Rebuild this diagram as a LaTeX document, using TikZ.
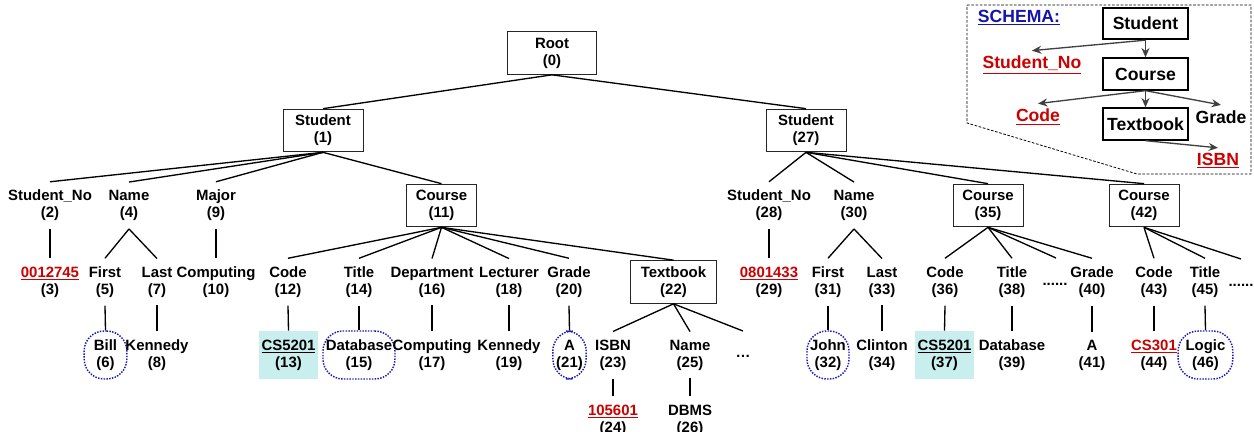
\documentclass[tikz,border=0pt]{standalone}
\usepackage{fontspec}
\setmainfont{Liberation Sans}
\usepackage{tikz}
\usetikzlibrary{arrows.meta}
\definecolor{xmlred}{RGB}{204,0,0}
\definecolor{xmlblue}{RGB}{20,20,170}
\definecolor{ringblue}{RGB}{25,25,185}
\definecolor{keycyan}{RGB}{200,238,238}
\definecolor{arrgray}{RGB}{64,64,64}
\newcommand{\treefont}{\fontsize{11.2}{12.75}\selectfont\bfseries}
\newcommand{\schemafont}{\fontsize{13.2}{15}\selectfont\bfseries}
\newcommand{\keyval}[1]{\textcolor{xmlred}{\underline{#1}}}
\tikzset{
  %% ---- tree ----
  elem/.style    = {rectangle, draw=black!85, line width=0.75pt,
                    minimum width=#1, minimum height=32pt, inner sep=1pt,
                    align=center, font=\treefont},
  elem/.default  = 53pt,
  lbl/.style     = {align=center, inner sep=6pt, font=\treefont},
  ring/.style    = {draw=ringblue, densely dotted, line width=1.1pt,
                    rounded corners=15pt, minimum width=#1,
                    minimum height=36pt, inner sep=0pt,
                    align=center, font=\treefont},
  keybox/.style  = {fill=keycyan, minimum width=44pt, minimum height=36pt,
                    inner sep=0pt, align=center, font=\treefont},
  ellip/.style   = {inner sep=1pt, font=\treefont},
  edge/.style    = {line width=1pt, color=black},
  %% ---- schema ----
  sbox/.style    = {rectangle, draw=black, line width=1.5pt,
                    minimum width=63.75pt, minimum height=23.5pt,
                    inner sep=1pt, font=\schemafont},
  stext/.style   = {inner sep=4pt, font=\schemafont},
  sarrow/.style  = {-{Stealth[length=7pt, width=6pt]}, line width=1pt,
                    color=arrgray},
}

\begin{document}
\begin{tikzpicture}[x=0.75pt, y=-0.75pt]
\useasboundingbox (0,0) rectangle (1254,432);

% Root and the two students
\node[elem=66.75pt] (root) at (552,53)    {Root\\(0)};
\node[elem=60pt]    (s1)   at (323,130.5) {Student\\(1)};
\node[elem=60pt]    (s27)  at (806,130.5) {Student\\(27)};

% first student
\node[lbl]       (n2)  at (50,205.5)    {Student\_No\\(2)};
\node[lbl]       (n4)  at (129,205.5)   {Name\\(4)};
\node[lbl]       (n9)  at (216,205.5)   {Major\\(9)};
\node[elem=53pt] (n11) at (441.5,205.5) {Course\\(11)};

\node[lbl]       (n3)  at (50,282)    {\keyval{0012745}\\(3)};
\node[lbl]       (n5)  at (105,282)   {First\\(5)};
\node[lbl]       (n7)  at (157,282)   {Last\\(7)};
\node[lbl]       (n10) at (216,282)   {Computing\\(10)};
\node[lbl]       (n12) at (288,282)   {Code\\(12)};
\node[lbl]       (n14) at (359,282)   {Title\\(14)};
\node[lbl]       (n16) at (432,282)   {Department\\(16)};
\node[lbl]       (n18) at (509,282)   {Lecturer\\(18)};
\node[lbl]       (n20) at (569,282)   {Grade\\(20)};
\node[elem=65pt] (n22) at (673.5,282) {Textbook\\(22)};

\node[ring=32pt] (n6)  at (105.5,355) {Bill\\(6)};
\node[lbl]       (n8)  at (157,355)   {Kennedy\\(8)};
\node[keybox]    (n13) at (288.5,355) {\underline{CS5201}\\(13)};
\node[ring=54pt] (n15) at (359,355)   {Database\\(15)};
\node[lbl]       (n17) at (432,355)   {Computing\\(17)};
\node[lbl]       (n19) at (509,355)   {Kennedy\\(19)};
\node[ring=25pt] (n21) at (569.5,355) {A\\(21)};
\node[lbl]       (n23) at (613,355)   {ISBN\\(23)};
\node[lbl]       (n25) at (690,355)   {Name\\(25)};
\node[ellip]     (tbdots) at (743,356) {\ldots};
\coordinate      (tbmore) at (743,331);

\node[lbl]       (n24) at (613,420)   {\keyval{105601}\\(24)};
\node[lbl]       (n26) at (690,420)   {DBMS\\(26)};

% second student
\node[lbl]       (n28) at (769,205.5)  {Student\_No\\(28)};
\node[lbl]       (n30) at (854,205.5)  {Name\\(30)};
\node[elem=52.5pt] (n35) at (988,205.5)  {Course\\(35)};
\node[elem=52.5pt] (n42) at (1144,205.5) {Course\\(42)};

\node[lbl]       (n29) at (769,282)   {\keyval{0801433}\\(29)};
\node[lbl]       (n31) at (828,282)   {First\\(31)};
\node[lbl]       (n33) at (882,282)   {Last\\(33)};
\node[lbl]       (n36) at (945,282)   {Code\\(36)};
\node[lbl]       (n38) at (1012,282)  {Title\\(38)};
\node[ellip]     (c35dots) at (1055,284) {......};
\coordinate      (c35more) at (1056,258);
\node[lbl]       (n40) at (1092,282)  {Grade\\(40)};
\node[lbl]       (n43) at (1154,282)  {Code\\(43)};
\node[lbl]       (n45) at (1205,282)  {Title\\(45)};
\node[ellip]     (c42dots) at (1241,285) {......};
\coordinate      (c42more) at (1241,259);

\node[ring=31.5pt] (n32) at (828,355)    {John\\(32)};
\node[lbl]         (n34) at (882,355)    {Clinton\\(34)};
\node[keybox]      (n37) at (944.5,355)  {\underline{CS5201}\\(37)};
\node[lbl]         (n39) at (1012,355)   {Database\\(39)};
\node[lbl]         (n41) at (1092,355)   {A\\(41)};
\node[lbl]         (n44) at (1154,355)   {\keyval{CS301}\\(44)};
\node[ring=41pt]   (n46) at (1205.5,355) {Logic\\(46)};

% tree edges
\draw[edge] (root.south) -- (s1.north);
\draw[edge] (root.south) -- (s27.north);

\draw[edge] (s1.south)  -- (n2.north);
\draw[edge] (s1.south)  -- (n4.north);
\draw[edge] (s1.south)  -- (n9.north);
\draw[edge] (s1.south)  -- (n11.north);
\draw[edge] (n2.south)  -- (n3.north);
\draw[edge] (n4.south)  -- (n5.north);
\draw[edge] (n4.south)  -- (n7.north);
\draw[edge] (n9.south)  -- (n10.north);
\draw[edge] (n11.south) -- (n12.north);
\draw[edge] (n11.south) -- (n14.north);
\draw[edge] (n11.south) -- (n16.north);
\draw[edge] (n11.south) -- (n18.north);
\draw[edge] (n11.south) -- (n20.north);
\draw[edge] (n11.south) -- (n22.north);
\draw[edge] (n5.south)  -- (n6.north);
\draw[edge] (n7.south)  -- (n8.north);
\draw[edge] (n12.south) -- (n13.north);
\draw[edge] (n14.south) -- (n15.north);
\draw[edge] (n16.south) -- (n17.north);
\draw[edge] (n18.south) -- (n19.north);
\draw[edge] (n20.south) -- (n21.north);
\draw[edge] (n22.south) -- (n23.north);
\draw[edge] (n22.south) -- (n25.north);
\draw[edge] (n22.south) -- (tbmore);
\draw[edge] (n23.south) -- (n24.north);
\draw[edge] (n25.south) -- (n26.north);

\draw[edge] (s27.south) -- (n28.north);
\draw[edge] (s27.south) -- (n30.north);
\draw[edge] (s27.south) -- (n35.north);
\draw[edge] (s27.south) -- (n42.north);
\draw[edge] (n28.south) -- (n29.north);
\draw[edge] (n30.south) -- (n31.north);
\draw[edge] (n30.south) -- (n33.north);
\draw[edge] (n35.south) -- (n36.north);
\draw[edge] (n35.south) -- (n38.north);
\draw[edge] (n35.south) -- (c35more);
\draw[edge] (n35.south) -- (n40.north);
\draw[edge] (n42.south) -- (n43.north);
\draw[edge] (n42.south) -- (n45.north);
\draw[edge] (n42.south) -- (c42more);
\draw[edge] (n31.south) -- (n32.north);
\draw[edge] (n33.south) -- (n34.north);
\draw[edge] (n36.south) -- (n37.north);
\draw[edge] (n38.south) -- (n39.north);
\draw[edge] (n40.south) -- (n41.north);
\draw[edge] (n43.south) -- (n44.north);
\draw[edge] (n45.south) -- (n46.north);

% schema inset
\draw[black, dash pattern=on 2pt off 1.2pt, line width=0.6pt]
  (967,5) -- (1251,5) -- (1251,174) -- (1137,174) -- (967,123) -- cycle;
\node[stext, text=xmlblue] (stitle) at (1019,18) {\underline{SCHEMA:}};
\node[sbox] (sstudent)  at (1145.5,23.5) {Student};
\node[sbox] (scourse)   at (1145.5,74)   {Course};
\node[sbox] (stextbook) at (1145.5,124)  {Textbook};
\node[stext] (sstudno) at (1032,65)  {\keyval{Student\_No}};
\node[stext] (scode)   at (1038,117) {\keyval{Code}};
\node[stext] (sgrade)  at (1221,117) {Grade};
\node[stext] (sisbn)   at (1218,161) {\keyval{ISBN}};

\draw[sarrow] (sstudent.south)  -- (sstudno.north);
\draw[sarrow] (sstudent.south)  -- (scourse.north);
\draw[sarrow] (scourse.south)   -- (scode.north);
\draw[sarrow] (scourse.south)   -- (stextbook.north);
\draw[sarrow] (scourse.south)   -- (sgrade.north);
\draw[sarrow] (stextbook.south) -- (sisbn.north);

\end{tikzpicture}
\end{document}
